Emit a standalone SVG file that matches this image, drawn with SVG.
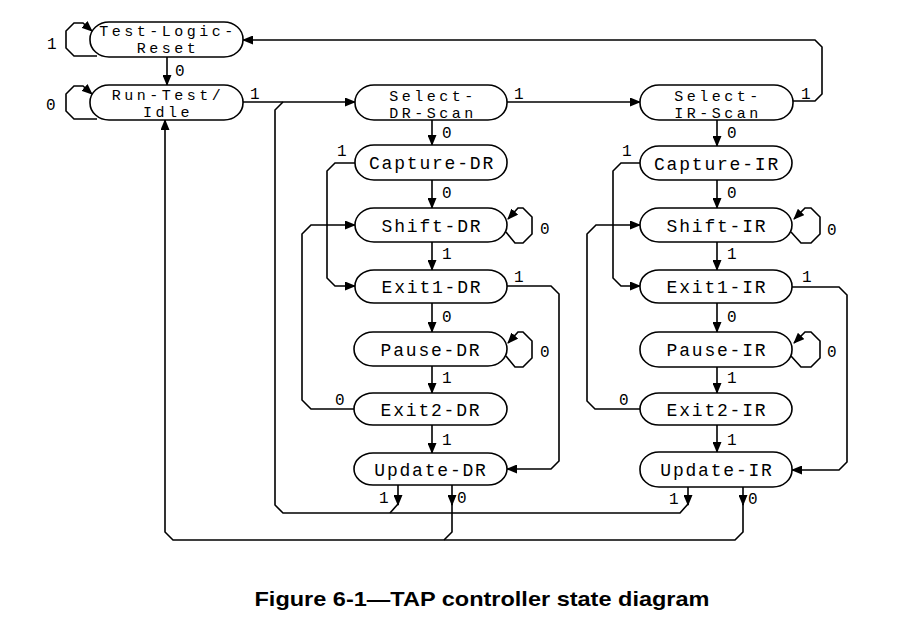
<svg xmlns="http://www.w3.org/2000/svg" width="916" height="625" viewBox="0 0 916 625">
<defs>
<marker id="ah" markerUnits="userSpaceOnUse" markerWidth="11" markerHeight="9" refX="10" refY="4.5" orient="auto">
<path d="M0,0 L11,4.5 L0,9 z" fill="#000"/>
</marker>
<style>
.n{fill:#fff;stroke:#000;stroke-width:1.6}
.t{font-family:"Liberation Mono","DejaVu Sans Mono",monospace;font-size:18px;letter-spacing:1.8px;text-anchor:middle;fill:#000}
.t2{font-family:"Liberation Mono","DejaVu Sans Mono",monospace;font-size:15px;letter-spacing:3.5px;text-anchor:middle;fill:#000}
.l{font-family:"Liberation Mono","DejaVu Sans Mono",monospace;font-size:16px;fill:#000}
.c{fill:none;stroke:#000;stroke-width:1.6}
.a{fill:none;stroke:#000;stroke-width:1.6;marker-end:url(#ah)}
.cap{font-family:"Liberation Sans",Arial,sans-serif;font-size:21px;font-weight:bold;text-anchor:middle;fill:#000}
</style>
</defs>
<rect width="916" height="625" fill="#fff"/>

<g id="connectors">
<path class="a" d="M97,56 L74,56 L66,48 L66,31 L74,23 L83,23 L92,31"/>
<path class="a" d="M97,119 L74,119 L66,111 L66,94 L74,86 L83,86 L92,94"/>
<path class="a" d="M506,232 L515,243 L523,243 L532,234 L532,217 L523,208 L518,208 L508,219"/>
<path class="a" d="M506,356 L515,367 L523,367 L532,358 L532,341 L523,332 L518,332 L508,343"/>
<path class="a" d="M791,232 L801,243 L811,243 L820,234 L820,217 L811,208 L805,208 L794,219"/>
<path class="a" d="M791,356 L801,367 L811,367 L820,358 L820,341 L811,332 L805,332 L794,343"/>
<path class="a" d="M167,57 L167,85"/>
<path class="a" d="M243,102 L355,102"/>
<path class="a" d="M507,102 L640,102"/>
<path class="a" d="M793,101 L815,101 L822,94 L822,47 L815,40 L243,40"/>
<path class="a" d="M432,120 L432,145"/>
<path class="a" d="M432,180 L432,208"/>
<path class="a" d="M432,242 L432,270"/>
<path class="a" d="M432,303 L432,332"/>
<path class="a" d="M432,366 L432,393"/>
<path class="a" d="M432,425 L432,453"/>
<path class="a" d="M717,120 L717,146"/>
<path class="a" d="M717,180 L717,208"/>
<path class="a" d="M717,242 L717,270"/>
<path class="a" d="M717,303 L717,332"/>
<path class="a" d="M717,367 L717,393"/>
<path class="a" d="M717,425 L717,452"/>
<path class="a" d="M355,163 L335,163 L327,171 L327,278 L335,286 L355,286"/>
<path class="a" d="M354,409 L311,409 L302,400 L302,234 L311,225 L355,225"/>
<path class="a" d="M507,286 L551,286 L559,294 L559,461 L551,469 L507,469"/>
<path class="a" d="M640,163 L621,163 L613,171 L613,278 L621,286 L640,286"/>
<path class="a" d="M640,409 L595,409 L587,401 L587,234 L596,225 L640,225"/>
<path class="a" d="M792,287 L839,287 L847,295 L847,462 L839,470 L792,470"/>
<path class="a" d="M398,485 L398,505"/>
<path class="c" d="M398,504 L390,513"/>
<path class="a" d="M452,485 L452,505"/>
<path class="c" d="M452,504 L452,532 L444,540"/>
<path class="a" d="M688,487 L688,505"/>
<path class="c" d="M688,504 L680,513 L283,513 L275,505 L275,110 L283,102"/>
<path class="a" d="M743,487 L743,505"/>
<path class="a" d="M743,504 L743,532 L735,540 L173,540 L165,532 L165,120"/>
</g>

<g id="labels">
<text class="l" x="47" y="49">1</text>
<text class="l" x="46" y="110">0</text>
<text class="l" x="175" y="76">0</text>
<text class="l" x="250" y="99">1</text>
<text class="l" x="514" y="99">1</text>
<text class="l" x="801" y="99">1</text>
<text class="l" x="442" y="138">0</text>
<text class="l" x="727" y="138">0</text>
<text class="l" x="337" y="156">1</text>
<text class="l" x="622" y="156">1</text>
<text class="l" x="442" y="198">0</text>
<text class="l" x="727" y="198">0</text>
<text class="l" x="442" y="259">1</text>
<text class="l" x="727" y="259">1</text>
<text class="l" x="540" y="234">0</text>
<text class="l" x="827" y="235">0</text>
<text class="l" x="514" y="282">1</text>
<text class="l" x="802" y="282">1</text>
<text class="l" x="442" y="322">0</text>
<text class="l" x="727" y="322">0</text>
<text class="l" x="540" y="357">0</text>
<text class="l" x="827" y="357">0</text>
<text class="l" x="442" y="383">1</text>
<text class="l" x="727" y="383">1</text>
<text class="l" x="335" y="405">0</text>
<text class="l" x="619" y="405">0</text>
<text class="l" x="442" y="445">1</text>
<text class="l" x="727" y="445">1</text>
<text class="l" x="379" y="503">1</text>
<text class="l" x="457" y="503">0</text>
<text class="l" x="669" y="504">1</text>
<text class="l" x="748" y="504">0</text>
</g>

<g id="test-logic-reset"><rect class="n" x="90" y="22" width="153" height="35" rx="19" ry="17"/><text class="t2" x="168" y="36">Test-Logic-</text><text class="t2" x="168" y="53">Reset</text></g>
<g id="run-test-idle"><rect class="n" x="90" y="85" width="153" height="35" rx="19" ry="17"/><text class="t2" x="168" y="100">Run-Test/</text><text class="t2" x="168" y="117">Idle</text></g>
<g id="select-dr-scan"><rect class="n" x="355" y="85" width="152" height="35" rx="19" ry="17"/><text class="t2" x="433" y="101">Select-</text><text class="t2" x="433" y="118">DR-Scan</text></g>
<g id="select-ir-scan"><rect class="n" x="640" y="85" width="153" height="35" rx="19" ry="17"/><text class="t2" x="718" y="101">Select-</text><text class="t2" x="718" y="118">IR-Scan</text></g>
<g id="capture-dr"><rect class="n" x="355" y="145" width="152" height="35" rx="19" ry="17"/><text class="t" x="432" y="169">Capture-DR</text></g>
<g id="shift-dr"><rect class="n" x="355" y="208" width="152" height="34" rx="19" ry="17"/><text class="t" x="432" y="232">Shift-DR</text></g>
<g id="exit1-dr"><rect class="n" x="355" y="270" width="152" height="33" rx="19" ry="16"/><text class="t" x="432" y="293">Exit1-DR</text></g>
<g id="pause-dr"><rect class="n" x="354" y="332" width="153" height="34" rx="19" ry="17"/><text class="t" x="431" y="356">Pause-DR</text></g>
<g id="exit2-dr"><rect class="n" x="354" y="393" width="153" height="32" rx="19" ry="16"/><text class="t" x="431" y="416">Exit2-DR</text></g>
<g id="update-dr"><rect class="n" x="354" y="453" width="153" height="32" rx="19" ry="16"/><text class="t" x="431" y="476">Update-DR</text></g>
<g id="capture-ir"><rect class="n" x="640" y="146" width="152" height="34" rx="19" ry="17"/><text class="t" x="717" y="170">Capture-IR</text></g>
<g id="shift-ir"><rect class="n" x="640" y="208" width="152" height="34" rx="19" ry="17"/><text class="t" x="717" y="232">Shift-IR</text></g>
<g id="exit1-ir"><rect class="n" x="640" y="270" width="152" height="33" rx="19" ry="16"/><text class="t" x="717" y="293">Exit1-IR</text></g>
<g id="pause-ir"><rect class="n" x="640" y="332" width="152" height="35" rx="19" ry="17"/><text class="t" x="717" y="356">Pause-IR</text></g>
<g id="exit2-ir"><rect class="n" x="640" y="393" width="152" height="32" rx="19" ry="16"/><text class="t" x="717" y="416">Exit2-IR</text></g>
<g id="update-ir"><rect class="n" x="640" y="452" width="152" height="35" rx="19" ry="17"/><text class="t" x="717" y="476">Update-IR</text></g>

<text class="cap" x="482" y="606" textLength="455" lengthAdjust="spacingAndGlyphs">Figure 6-1—TAP controller state diagram</text>
</svg>
